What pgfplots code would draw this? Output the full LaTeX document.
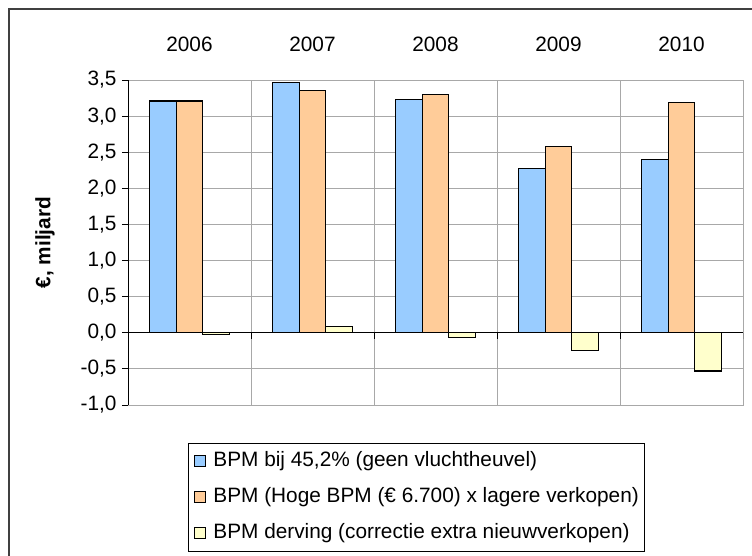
\documentclass[border=0pt]{standalone}
\usepackage{pgfplots}
\pgfplotsset{compat=1.18}
\usepackage{fontspec}
\setmainfont{Liberation Sans}
\definecolor{bpmblue}{HTML}{99CCFF}
\definecolor{bpmorange}{HTML}{FFCC99}
\definecolor{bpmyellow}{HTML}{FFFFCC}
\definecolor{gridgray}{HTML}{A8A8A8}
\definecolor{framegray}{HTML}{404040}
\newcommand{\chartfont}{\fontsize{20.8}{25}\selectfont}

\begin{document}
\begin{tikzpicture}
\useasboundingbox (0pt,0pt) rectangle (752pt,-556pt);
\draw[framegray, line width=2pt] (9pt,-600pt) -- (9pt,-9pt) -- (800pt,-9pt);
\begin{axis}[
    at={(128pt,-405pt)}, anchor=south west,
    scale only axis, width=615pt, height=325pt,
    ybar=0pt, bar width=26.7pt,
    xmin=-0.5, xmax=4.5, ymin=-1, ymax=3.5,
    xtick={0,1,2,3,4},
    xticklabels={2006,2007,2008,2009,2010},
    xticklabel pos=upper,
    major x tick style={draw=none},
    minor x tick style={draw=none},
    minor xtick={0.5,1.5,2.5,3.5},
    xminorgrids,
    minor x grid style={gridgray, line width=1pt},
    ytick={-1,-0.5,0,0.5,1,1.5,2,2.5,3,3.5},
    ytick pos=left,
    ymajorgrids,
    major y grid style={gridgray, line width=1pt},
    axis line style={gridgray, line width=1pt},
    y tick style={black, line width=0.8pt},
    tick align=outside, major tick length=6pt,
    /pgf/number format/fixed,
    /pgf/number format/fixed zerofill,
    /pgf/number format/precision=1,
    /pgf/number format/use comma,
    /pgf/number format/assume math mode=true,
    ticklabel style={font=\chartfont},
    yticklabel style={xshift=-2pt},
    xticklabel style={yshift=19pt},
    ylabel={\textbf{€, miljard}},
    ylabel style={font=\chartfont, at={(axis description cs:-0.135,0.5)}, anchor=center},
    legend style={at={(axis description cs:0.0976,-0.117)}, anchor=north west,
        draw=black, line width=0.8pt, font=\chartfont,
        inner xsep=5pt, inner ysep=7pt, row sep=14pt,
        nodes={inner sep=1pt, text height=15.5pt, text depth=4.5pt}},
    legend cell align=left,
    legend image code/.code={
        \draw[#1, line width=0.8pt] (0pt,-5pt) rectangle (11pt,6pt);
        \path[draw=none, fill=none] (-1pt,0pt) -- (18pt,0pt);},
]
\addplot[fill=bpmblue, draw=black, line width=1.2pt]
    coordinates {(0,3.21) (1,3.47) (2,3.23) (3,2.28) (4,2.40)};
\addplot[fill=bpmorange, draw=black, line width=1.2pt]
    coordinates {(0,3.21) (1,3.36) (2,3.30) (3,2.58) (4,3.19)};
\addplot[fill=bpmyellow, draw=black, line width=1.2pt]
    coordinates {(0,-0.02) (1,0.09) (2,-0.07) (3,-0.245) (4,-0.53)};
\legend{{BPM bij 45,2\% (geen vluchtheuvel)},
        {BPM (Hoge BPM (€ 6.700) x lagere verkopen)},
        {BPM derving (correctie extra nieuwverkopen)}}
\draw[black, line width=1pt] (axis cs:-0.5,0) -- (axis cs:4.5,0);
\draw[black, line width=1pt] (axis cs:-0.5,-1) -- (axis cs:-0.5,3.5);
\pgfplotsinvokeforeach{0.5,1.5,2.5,3.5,4.5}{
    \draw[black, line width=1pt] (axis cs:#1,0) -- ++(0pt,-6pt);
}
\end{axis}
\end{tikzpicture}
\end{document}
